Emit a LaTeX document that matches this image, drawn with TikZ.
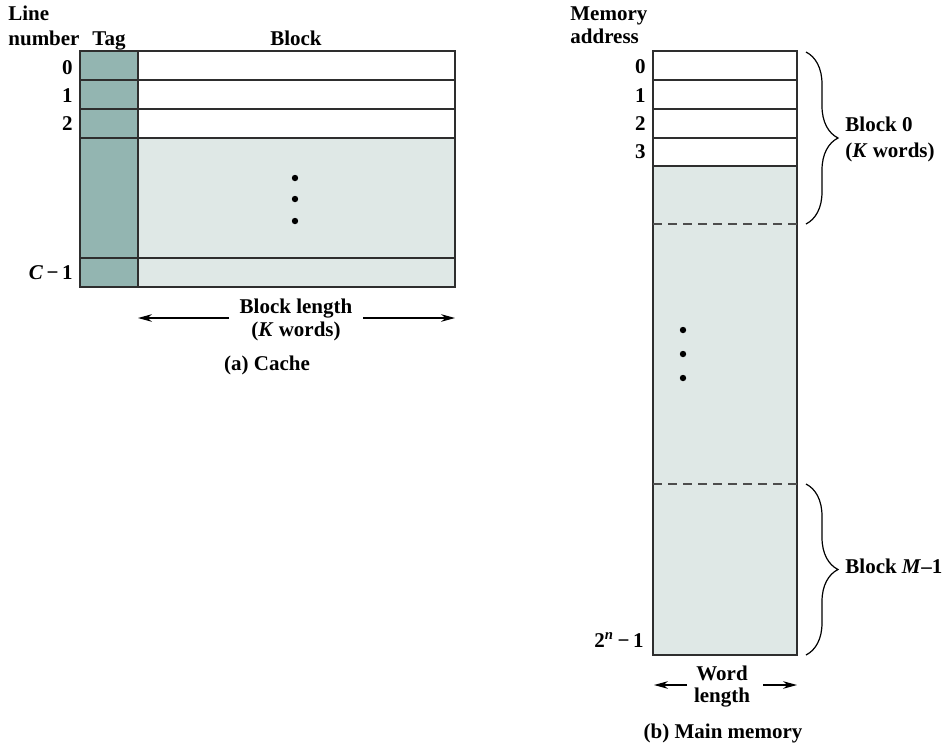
\documentclass[tikz,border=0pt]{standalone}
\usepackage{fontspec}
\setmainfont{Liberation Serif}
\usetikzlibrary{arrows.meta,decorations.pathreplacing}
\definecolor{tagteal}{HTML}{93B5B1}
\definecolor{blockgray}{HTML}{DFE8E6}
\definecolor{edgegray}{HTML}{2E2E2E}

\begin{document}
\begin{tikzpicture}[x=0.5pt,y=-0.5pt,
  lbl/.style={font=\fontsize{10.5}{12}\selectfont\bfseries, inner sep=0pt},
  cell/.style={draw=edgegray, line width=0.75pt},
  dimarrow/.style={-{Stealth[length=7pt,width=3.8pt]}, line width=0.6pt},
  bracedeco/.style={decorate, decoration={brace, amplitude=16pt}, line width=0.6pt},
  dashline/.style={draw=edgegray!85, line width=0.7pt, dash pattern=on 4.5pt off 3pt},
  dot/.style={circle, fill=black, inner sep=0pt, minimum size=3.2pt}]
\useasboundingbox (0,0) rectangle (949,746);

%%%%%%%%%%%%%%%%%%%%%%%%%%%%%%%%%%%%%%%%%%%%%%%%%%%%%%%%%%%%%%%% (a) cache
\fill [blockgray] (138,138) rectangle (455,287);
\fill [tagteal] (80,51) rectangle (138,287);
\draw [cell] (80,51) rectangle (455,287);
\foreach \y in {80,109,138,258}
  \draw [cell] (80,\y) -- (455,\y); %row lines
\draw [cell] (138,51) -- (138,287); %tag | block

\node [lbl, anchor=base west] (linetop) at (8,20) {Line};
\node [lbl, anchor=base west] (linebot) at (8,45) {number};
\node [lbl, anchor=base] (tag) at (109,45) {Tag};
\node [lbl, anchor=base] (block) at (296,45) {Block};

\node [lbl, anchor=base east] (line0) at (73,74) {0};
\node [lbl, anchor=base east] (line1) at (73,102) {1};
\node [lbl, anchor=base east] (line2) at (73,130) {2};
\node [lbl, anchor=base east] (linec) at (73,279) {\textit{C}\,−\,1};

\foreach \y [count=\i] in {178,199,221}
  \node [dot] (cdot\i) at (295,\y) {};

\node [lbl, anchor=base] (blen) at (296,313) {Block length};
\node [lbl, anchor=base] (bwords) at (296,336) {(\textit{K} words)};
\coordinate (bleft) at (138,318);
\coordinate (bright) at (455,318);
\draw [dimarrow] (229,318) -- (bleft);
\draw [dimarrow] (363,318) -- (bright);
\node [lbl, anchor=base] (capa) at (267,370) {(a) Cache};

%%%%%%%%%%%%%%%%%%%%%%%%%%%%%%%%%%%%%%%%%%%%%%%%%%%%%%%%%%%%%%%% (b) main memory
\fill [blockgray] (653,166) rectangle (797,655);
\draw [cell] (653,51) rectangle (797,655);
\foreach \y in {80,109,138,166}
  \draw [cell] (653,\y) -- (797,\y); %words 0..3
\draw [dashline] (653,224) -- (797,224);
\draw [dashline] (653,484) -- (797,484);

\node [lbl, anchor=base west] (memtop) at (570,20) {Memory};
\node [lbl, anchor=base west] (membot) at (570,43) {address};

\node [lbl, anchor=base east] (addr0) at (646,73) {0};
\node [lbl, anchor=base east] (addr1) at (646,102) {1};
\node [lbl, anchor=base east] (addr2) at (646,130) {2};
\node [lbl, anchor=base east] (addr3) at (646,158) {3};
\node [lbl, anchor=base east] (addrn) at (644,647) {2\textsuperscript{\textit{n}}\,−\,1};

\foreach \y [count=\i] in {330,354,378}
  \node [dot] (mdot\i) at (683,\y) {};

\draw [bracedeco] (806,52) -- (806,224); %block 0
\node [lbl, anchor=base west] (blk0) at (845,131) {Block 0};
\node [lbl, anchor=base west] (blk0w) at (845,157) {(\textit{K} words)};
\draw [bracedeco] (806,484) -- (806,655); %block M-1
\node [lbl, anchor=base west] (blkm) at (845,573) {Block \textit{M}–1};

\node [lbl, anchor=base] (word) at (722,680) {Word};
\node [lbl, anchor=base] (wlen) at (722,702) {length};
\coordinate (wleft) at (654,685);
\coordinate (wright) at (797,685);
\draw [dimarrow] (687,685) -- (wleft);
\draw [dimarrow] (763,685) -- (wright);
\node [lbl, anchor=base] (capb) at (723,738) {(b) Main memory};
\end{tikzpicture}
\end{document}
